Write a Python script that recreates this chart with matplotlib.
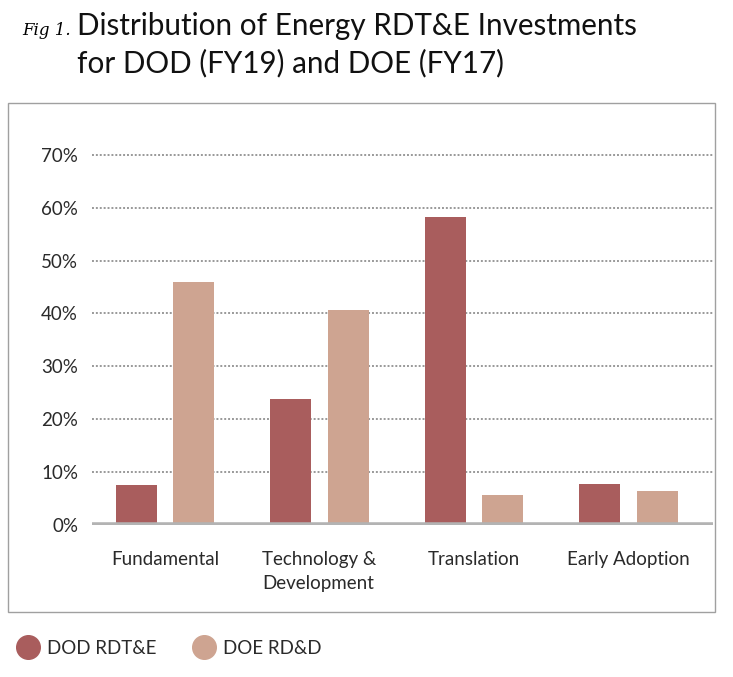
import matplotlib.pyplot as plt
import numpy as np
from matplotlib.lines import Line2D
from matplotlib.patches import Rectangle

# ── Data ─────────────────────────────────────────────────────────────────────
categories = ["Fundamental", "Technology &\nDevelopment", "Translation", "Early Adoption"]
dod_values = [7.5, 23.8, 58.2, 7.8]   # DOD RDT&E (%)
doe_values = [46.0, 40.6, 5.7, 6.4]   # DOE RD&D (%)
y_ticks = [0, 10, 20, 30, 40, 50, 60, 70]
tick_labels = [f"{t}%" for t in y_ticks]

DOD_COLOR = "#a95d5d"
DOE_COLOR = "#cea491"
FONT = "Lato"
TXT = "#2a2a2a"

fig = plt.figure(figsize=(7.33, 6.77), dpi=100)
ax = fig.add_axes([0.1255, 0.2245, 0.847, 0.586])

x = np.arange(len(categories))
width = 0.265
offset = 0.186
ax.bar(x - offset, dod_values, width, color=DOD_COLOR, zorder=3)
ax.bar(x + offset, doe_values, width, color=DOE_COLOR, zorder=3)

ax.set_xlim(-0.472, 3.547)
ax.set_ylim(0, 75)
ax.set_yticks(y_ticks)
ax.set_yticklabels(tick_labels, fontfamily=FONT, fontsize=13.5, color=TXT)
ax.set_xticks(x)
ax.set_xticklabels(categories, fontfamily=FONT, fontsize=13.5, color=TXT,
                   linespacing=1.45, va="top", multialignment="left")
ax.tick_params(axis="both", length=0)
ax.tick_params(axis="y", pad=10)
ax.tick_params(axis="x", pad=19)

# dotted gridlines + thick baseline
for t in y_ticks[1:]:
    ax.axhline(t, color="#999999", lw=1.4, ls=(0, (1, 1)), zorder=1)
ax.axhline(0, color="#b3b3b3", lw=4, zorder=4)

for s in ax.spines.values():
    s.set_visible(False)

# frame around the chart area
fig.add_artist(Rectangle((8 / 733, 1 - 612 / 677), 707 / 733, 509 / 677,
                         transform=fig.transFigure, fill=False,
                         edgecolor="#a0a0a0", lw=1))

# ── Title ────────────────────────────────────────────────────────────────────
fig.text(22 / 733, 1 - 35 / 677, "Fig 1.", fontfamily="DejaVu Serif",
         style="italic", fontsize=12, va="baseline")
fig.text(77 / 733, 1 - 35 / 677, "Distribution of Energy RDT&E Investments",
         fontfamily=FONT, fontsize=21.3, va="baseline", color="#111111")
fig.text(77 / 733, 1 - 72 / 677, "for DOD (FY19) and DOE (FY17)",
         fontfamily=FONT, fontsize=21.3, va="baseline", color="#111111")

# ── Legend ───────────────────────────────────────────────────────────────────
handles = [
    Line2D([], [], marker="o", ls="", markersize=17, color=DOD_COLOR, label="DOD RDT&E"),
    Line2D([], [], marker="o", ls="", markersize=17, color=DOE_COLOR, label="DOE RD&D"),
]
fig.legend(handles=handles, loc="center left", bbox_to_anchor=(16 / 733, 1 - 648 / 677),
           ncol=2, frameon=False, handletextpad=0.35, columnspacing=1.9,
           handlelength=1.3, prop={"family": FONT, "size": 13.5},
           borderaxespad=0, borderpad=0, labelcolor=TXT)

fig.savefig("out.png", dpi=100)
